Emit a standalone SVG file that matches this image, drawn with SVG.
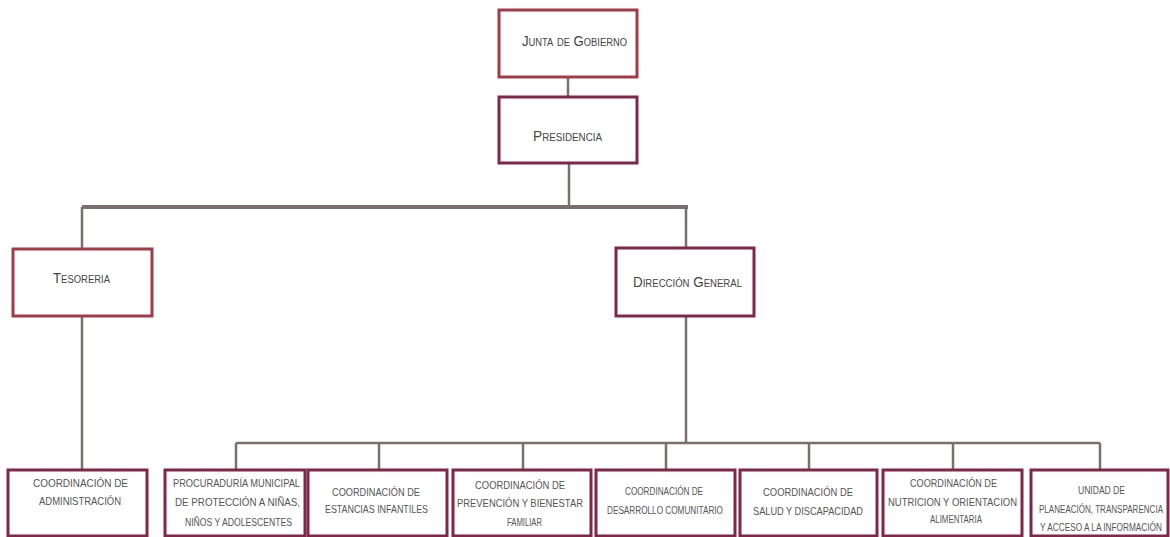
<svg xmlns="http://www.w3.org/2000/svg" width="1170" height="537" viewBox="0 0 1170 537">
<style>
.box{fill:#ffffff;stroke:#7f2747;stroke-width:3}
.box2{fill:#ffffff;stroke:#a33a48;stroke-width:3}
.con{fill:none;stroke:#7a706b;stroke-width:2.5}
.top{font-family:"Liberation Sans",Arial,sans-serif;font-size:14px;font-variant:small-caps;fill:#444}
.t{font-family:"Liberation Sans",Arial,sans-serif;font-size:11px;fill:#555}
.s{font-size:8.2px}
</style>
<rect width="1170" height="537" fill="#ffffff"/>
<g id="connectors">
<path class="con" d="M568 77V97"/>
<path class="con" d="M569 163V207"/>
<path class="con" style="stroke-width:4" d="M82 207H688"/>
<path class="con" d="M82 207V249M686 207V248"/>
<path class="con" d="M82 316V470"/>
<path class="con" d="M686 316V443"/>
<path class="con" d="M236 443H1100"/>
<path class="con" d="M236 443V470M379 443V470M523 443V470M666 443V470M809 443V470M953 443V470M1100 443V470"/>
</g>
<g id="junta">
<rect class="box2" x="499" y="10" width="138" height="67"/>
<text class="top" x="522" y="46" textLength="105" lengthAdjust="spacingAndGlyphs">Junta de Gobierno</text>
</g>
<g id="presidencia">
<rect class="box" x="499" y="97" width="138" height="66"/>
<text class="top" x="533" y="141" textLength="69" lengthAdjust="spacingAndGlyphs">Presidencia</text>
</g>
<g id="tesoreria">
<rect class="box2" x="13" y="249" width="139" height="67"/>
<text class="top" x="53" y="283" textLength="57" lengthAdjust="spacingAndGlyphs">Tesoreria</text>
</g>
<g id="direccion">
<rect class="box" x="616" y="248" width="138" height="68"/>
<text class="top" x="633" y="287" textLength="109" lengthAdjust="spacingAndGlyphs">Dirección General</text>
</g>
<g id="administracion">
<rect class="box" x="8" y="470" width="139" height="66"/>
<text class="t" x="33" y="487" textLength="95" lengthAdjust="spacingAndGlyphs">COORDINACIÓN DE</text>
<text class="t" x="39" y="505" textLength="82" lengthAdjust="spacingAndGlyphs">ADMINISTRACIÓN</text>
</g>
<g id="procuraduria">
<rect class="box" x="165" y="470" width="140" height="66"/>
<text class="t" x="173" y="487" textLength="127" lengthAdjust="spacingAndGlyphs">PROCURADURÍA MUNICIPAL</text>
<text class="t" x="175" y="506" textLength="125" lengthAdjust="spacingAndGlyphs">DE PROTECCIÓN  A NIÑAS,</text>
<text class="t" x="185" y="526" textLength="107" lengthAdjust="spacingAndGlyphs">NIÑOS Y ADOLESCENTES</text>
</g>
<g id="estancias">
<rect class="box" x="308" y="470" width="139" height="66"/>
<text class="t" x="332" y="496" textLength="88" lengthAdjust="spacingAndGlyphs">COORDINACIÓN DE</text>
<text class="t" x="325" y="513" textLength="103" lengthAdjust="spacingAndGlyphs">ESTANCIAS INFANTILES</text>
</g>
<g id="prevencion">
<rect class="box" x="453" y="470" width="138" height="66"/>
<text class="t" x="475" y="489" textLength="90" lengthAdjust="spacingAndGlyphs">COORDINACIÓN DE</text>
<text class="t" x="457" y="507" textLength="126" lengthAdjust="spacingAndGlyphs">PREVENCIÓN Y BIENESTAR</text>
<text class="t" x="507" y="526" textLength="35" lengthAdjust="spacingAndGlyphs">FAMILIAR</text>
</g>
<g id="desarrollo">
<rect class="box" x="596" y="470" width="139" height="66"/>
<text class="t" x="625" y="495" textLength="78" lengthAdjust="spacingAndGlyphs">COORDINACIÓN DE</text>
<text class="t" x="607" y="514" textLength="116" lengthAdjust="spacingAndGlyphs">DESARROLLO COMUNITARIO</text>
</g>
<g id="salud">
<rect class="box" x="740" y="470" width="137" height="66"/>
<text class="t" x="763" y="496" textLength="90" lengthAdjust="spacingAndGlyphs">COORDINACIÓN DE</text>
<text class="t" x="753" y="515" textLength="110" lengthAdjust="spacingAndGlyphs">SALUD Y DISCAPACIDAD</text>
</g>
<g id="nutricion">
<rect class="box" x="883" y="470" width="139" height="66"/>
<text class="t" x="910" y="487" textLength="87" lengthAdjust="spacingAndGlyphs">COORDINACIÓN DE</text>
<text class="t" x="888" y="506" textLength="129" lengthAdjust="spacingAndGlyphs">NUTRICION Y ORIENTACION</text>
<text class="t" x="930" y="523" textLength="52" lengthAdjust="spacingAndGlyphs">ALIMENTARIA</text>
</g>
<g id="unidad">
<rect class="box" x="1031" y="470" width="137" height="66"/>
<text class="t" x="1078" y="494" textLength="47" lengthAdjust="spacingAndGlyphs">UNIDAD DE</text>
<text class="t s" transform="translate(1039 513) scale(1 1.3)" x="0" y="0" textLength="124" lengthAdjust="spacingAndGlyphs">PLANEACIÓN, TRANSPARENCIA</text>
<text class="t s" transform="translate(1040 531) scale(1 1.3)" x="0" y="0" textLength="122" lengthAdjust="spacingAndGlyphs">Y ACCESO A LA INFORMACIÓN</text>
</g>
</svg>
